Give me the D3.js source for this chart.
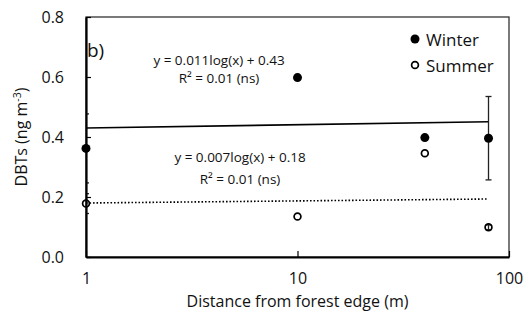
<!DOCTYPE html>
<html>
<head>
<meta charset="utf-8">
<script src="https://cdn.jsdelivr.net/npm/d3@7"></script>
<style>
  body { margin: 0; background: #fff; }
  text { font-family: "Open Sans", sans-serif; fill: #111; }
</style>
</head>
<body>
<div id="wrapper"></div>
<script>
// data
const distances = [1, 10, 40, 80]
const winterValues = [0.362, 0.598, 0.398, 0.396]
const winterErrors = [0.115, 0, 0, 0.139]
const summerValues = [0.178, 0.135, 0.346, 0.099]
const summerErrors = [0.033, 0, 0, 0.008]
const yTicks = [0.0, 0.2, 0.4, 0.6, 0.8]
const xTicks = [1, 10, 100]
// fitted trend lines: y = a*log10(x) + b
const winterFit = { a: 0.011, b: 0.43, label: "y = 0.011log(x) + 0.43", r2: "R² = 0.01 (ns)" }
const summerFit = { a: 0.007, b: 0.18, label: "y = 0.007log(x) + 0.18", r2: "R² = 0.01 (ns)" }

function drawChart() {
    const dimensions = {
        width: 530,
        height: 312,
        margin: { top: 17, right: 21, bottom: 55, left: 86 },
    }
    dimensions.boundedWidth = dimensions.width - dimensions.margin.left - dimensions.margin.right
    dimensions.boundedHeight = dimensions.height - dimensions.margin.top - dimensions.margin.bottom

    const wrapper = d3.select("#wrapper")
        .append("svg")
        .attr("width", dimensions.width)
        .attr("height", dimensions.height)

    const bounds = wrapper.append("g")
        .attr("transform", `translate(${dimensions.margin.left},${dimensions.margin.top})`)

    bounds.append("clipPath").attr("id", "plotclip")
        .append("rect")
        .attr("width", dimensions.boundedWidth)
        .attr("height", dimensions.boundedHeight)

    // scales
    const xScale = d3.scaleLog()
        .domain([1, 100])
        .range([0, dimensions.boundedWidth])

    const yScale = d3.scaleLinear()
        .domain([0, 0.8])
        .range([dimensions.boundedHeight, 0])

    // frame (top and right)
    bounds.append("rect")
        .attr("width", dimensions.boundedWidth)
        .attr("height", dimensions.boundedHeight)
        .attr("fill", "none")
        .attr("stroke", "#222")
        .attr("stroke-width", 1.2)

    // trend lines
    const fitLine = d3.line()
        .x(d => xScale(d.x))
        .y(d => yScale(d.y))
    const fitEnds = fit => [1, 80].map(x => ({ x: x, y: fit.a * Math.log10(x) + fit.b }))

    bounds.append("path")
        .attr("d", fitLine(fitEnds(winterFit)))
        .attr("stroke", "#000")
        .attr("stroke-width", 1.6)
        .attr("fill", "none")

    bounds.append("path")
        .attr("d", fitLine(fitEnds(summerFit)))
        .attr("stroke", "#000")
        .attr("stroke-width", 1.6)
        .attr("stroke-dasharray", "1.6,1.9")
        .attr("fill", "none")

    // error bars
    const errGroup = bounds.append("g").attr("clip-path", "url(#plotclip)")
    const drawErrors = (values, errors) => {
        distances.forEach((d, i) => {
            if (!errors[i]) return
            const x = xScale(d)
            const y0 = yScale(values[i] - errors[i])
            const y1 = yScale(values[i] + errors[i])
            errGroup.append("line").attr("x1", x).attr("x2", x).attr("y1", y0).attr("y2", y1)
                .attr("stroke", "#222").attr("stroke-width", 1.3)
            ;[y0, y1].forEach(y => {
                errGroup.append("line").attr("x1", x - 3).attr("x2", x + 3).attr("y1", y).attr("y2", y)
                    .attr("stroke", "#222").attr("stroke-width", 1.3)
            })
        })
    }
    drawErrors(winterValues, winterErrors)
    drawErrors(summerValues, summerErrors)

    // axes
    const yAxisGenerator = d3.axisLeft(yScale)
        .tickValues(yTicks)
        .tickFormat(d3.format(".1f"))
        .tickSizeInner(-5)
        .tickSizeOuter(0)
        .tickPadding(22)
    const yAxis = bounds.append("g").call(yAxisGenerator)
    yAxis.select(".domain").attr("stroke", "#000").attr("stroke-width", 2.2)
    yAxis.selectAll(".tick line").attr("stroke", "#000").attr("stroke-width", 1.2)
    yAxis.selectAll(".tick text")
        .style("font-family", "Open Sans, sans-serif")
        .style("font-size", "16px")
        .attr("fill", "#111")

    const xAxisGenerator = d3.axisBottom(xScale)
        .tickValues(xTicks)
        .tickFormat(d3.format("d"))
        .tickSizeInner(-6)
        .tickSizeOuter(0)
        .tickPadding(16)
    const xAxis = bounds.append("g")
        .attr("transform", `translate(0,${dimensions.boundedHeight})`)
        .call(xAxisGenerator)
    xAxis.select(".domain").attr("stroke", "#000").attr("stroke-width", 2.2)
    xAxis.selectAll(".tick line").attr("stroke", "#000").attr("stroke-width", 1.2)
    xAxis.selectAll(".tick text")
        .style("font-family", "Open Sans, sans-serif")
        .style("font-size", "16px")
        .attr("fill", "#111")

    // points
    bounds.selectAll(".winter")
        .data(distances)
        .join("circle")
        .attr("class", "winter")
        .attr("cx", d => xScale(d))
        .attr("cy", (d, i) => yScale(winterValues[i]))
        .attr("r", 4.5)
        .attr("fill", "#000")

    bounds.selectAll(".summer")
        .data(distances)
        .join("circle")
        .attr("class", "summer")
        .attr("cx", d => xScale(d))
        .attr("cy", (d, i) => yScale(summerValues[i]))
        .attr("r", 3.4)
        .attr("fill", "none")
        .attr("stroke", "#000")
        .attr("stroke-width", 1.7)

    // axis titles
    wrapper.append("text")
        .attr("x", dimensions.margin.left + dimensions.boundedWidth / 2)
        .attr("y", 307)
        .attr("text-anchor", "middle")
        .style("font-size", "16px")
        .text("Distance from forest edge (m)")

    const yTitle = wrapper.append("text")
        .attr("transform", `translate(27,${dimensions.margin.top + dimensions.boundedHeight / 2}) rotate(-90)`)
        .attr("text-anchor", "middle")
        .style("font-size", "16px")
    yTitle.append("tspan").text("DBTs (ng m")
    yTitle.append("tspan").attr("dy", -6).style("font-size", "10.5px").text("-3")
    yTitle.append("tspan").attr("dy", 6).text(")")

    // panel label
    bounds.append("text").attr("x", 1).attr("y", 40).style("font-size", "19px").text("b)")

    // equations
    const eq = (x, y, t) => bounds.append("text")
        .attr("x", x).attr("y", y)
        .attr("text-anchor", "middle")
        .style("font-size", "13.5px")
        .text(t)
    eq(133, 48, winterFit.label)
    eq(133, 66, winterFit.r2)
    eq(154, 145, summerFit.label)
    eq(154, 167, summerFit.r2)

    // legend
    const legend = bounds.append("g").attr("transform", "translate(329,0)")
    legend.append("circle").attr("cx", 0).attr("cy", 22).attr("r", 4.5).attr("fill", "#000")
    legend.append("text").attr("x", 11).attr("y", 29).style("font-size", "17px").text("Winter")
    legend.append("circle").attr("cx", 0).attr("cy", 48).attr("r", 3.4)
        .attr("fill", "none").attr("stroke", "#000").attr("stroke-width", 1.7)
    legend.append("text").attr("x", 11).attr("y", 55).style("font-size", "17px").text("Summer")
}
drawChart()
</script>
</body>
</html>
